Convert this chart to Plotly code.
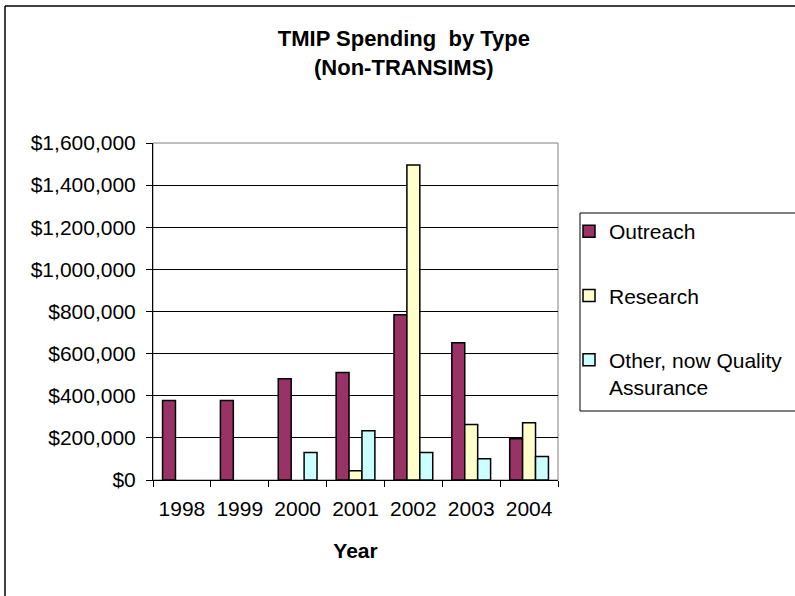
import plotly.graph_objects as go

years = ["1998", "1999", "2000", "2001", "2002", "2003", "2004"]
outreach = [377000, 377000, 481000, 510000, 785000, 652000, 196000]
research = [None, None, None, 44000, 1495000, 263000, 272000]
other_qa = [None, None, 130000, 234000, 130000, 101000, 111000]

series_names = ["Outreach", "Research", "Other, now Quality<br>Assurance"]
series_colors = ["#993366", "#FFFFCC", "#CCFFFF"]
y_ticks = [0, 200000, 400000, 600000, 800000, 1000000, 1200000, 1400000, 1600000]

FONT = "Liberation Sans, Arial, sans-serif"

fig = go.Figure()
for i, (name, vals, col) in enumerate(zip(series_names, [outreach, research, other_qa], series_colors)):
    fig.add_trace(go.Bar(
        x=years, y=vals, name=name, legendgroup=f"g{i}",
        marker=dict(color=col, line=dict(color="black", width=1.5)),
    ))

W, H = 795, 596
L, R, T, B = 153, 558, 143, 480
pw, ph = R - L, B - T

def px_x(p):
    return (p - L) / pw

def px_y(p):
    return (B - p) / ph

def hline(y, x0, x1, color="black", width=1.5):
    return dict(type="line", xref="paper", yref="paper",
                x0=px_x(x0), x1=px_x(x1), y0=px_y(y), y1=px_y(y),
                line=dict(color=color, width=width))

def vline(x, y0, y1, color="black", width=1.5):
    return dict(type="line", xref="paper", yref="paper",
                x0=px_x(x), x1=px_x(x), y0=px_y(y0), y1=px_y(y1),
                line=dict(color=color, width=width))

fig.update_layout(
    width=W, height=H,
    margin=dict(l=L, r=W - R, t=T, b=H - B, pad=0, autoexpand=False),
    paper_bgcolor="white", plot_bgcolor="white",
    font=dict(family=FONT, size=21, color="black"),
    barmode="group", bargap=0.33, bargroupgap=0,
    title=dict(
        text="<b>TMIP Spending  by Type<br>(Non-TRANSIMS)</b>",
        x=0.508, xanchor="center", xref="container",
        y=1 - 46 / H, yanchor="top", yref="container",
        font=dict(family=FONT, size=22, color="black"),
    ),
    xaxis=dict(
        title=dict(text="<b>Year</b>", font=dict(size=21), standoff=24),
        showline=True, linecolor="black", linewidth=1,
        ticks="outside", ticklen=6, tickcolor="black", tickson="boundaries",
        showgrid=False, tickfont=dict(size=21), ticklabelstandoff=10,
    ),
    yaxis=dict(
        range=[0, 1600000], tickvals=y_ticks, tickformat="$,.0f",
        showline=True, linecolor="black", linewidth=1,
        ticks="outside", ticklen=6, tickcolor="black",
        showgrid=True, gridcolor="black", gridwidth=1, zeroline=False,
        tickfont=dict(size=21), ticklabelstandoff=6,
    ),
    legend=dict(
        x=px_x(569), xanchor="left", y=px_y(211), yanchor="top",
        font=dict(size=21), tracegroupgap=34, valign="top",
        bgcolor="rgba(0,0,0,0)", borderwidth=0,
        itemclick=False,
    ),
    showlegend=True,
    shapes=[
        # plot-area frame (gray top/right)
        dict(type="rect", xref="paper", yref="paper", x0=0, x1=1, y0=0, y1=1,
             line=dict(color="#808080", width=1), layer="below"),
        # legend frame
        hline(213, 580, 800, width=1), hline(411, 580, 800, width=1),
        vline(580, 213, 411, width=1),
        # chart outer frame (left and top edges visible)
        hline(6, 5, 800), vline(5, 6, 600),
    ],
)

fig.write_html("out.html")
